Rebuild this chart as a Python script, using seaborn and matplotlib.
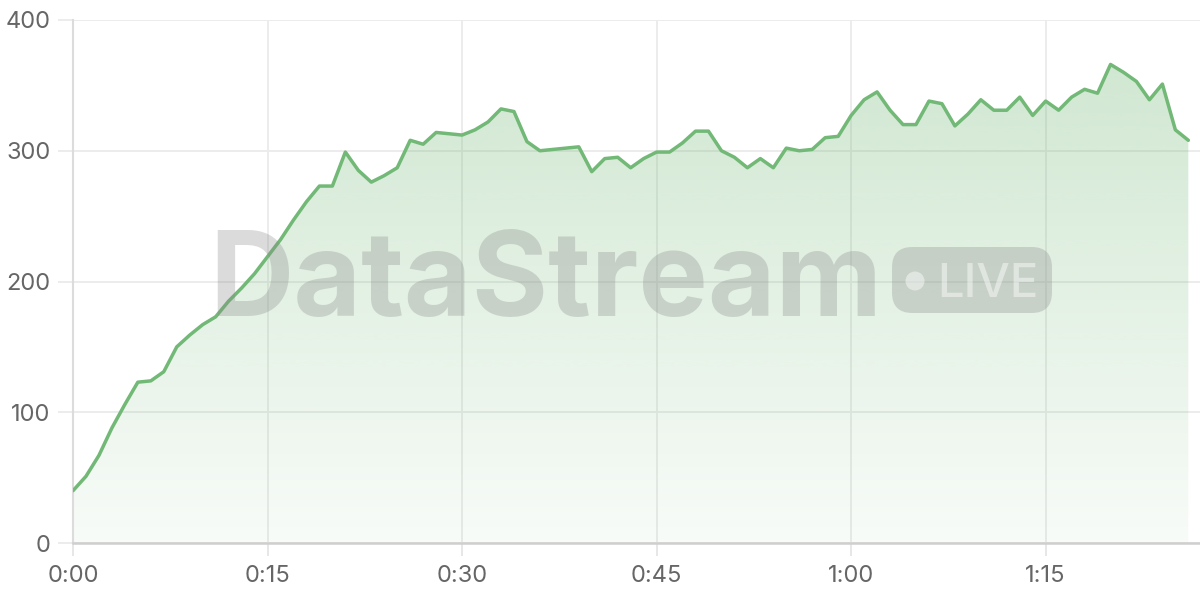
import numpy as np
import pandas as pd
import matplotlib
matplotlib.use("Agg")
import matplotlib.pyplot as plt
import seaborn as sns
from matplotlib.patches import FancyBboxPatch, Circle
from matplotlib.ticker import FuncFormatter, FixedLocator

# ---- data ----
minutes = list(range(87))
values = [40, 51, 67, 88, 106, 123, 124, 131, 150, 159,
          167, 173, 185, 195, 206, 219, 232, 247, 261, 273,
          273, 299, 285, 276, 281, 287, 308, 305, 314, 313,
          312, 316, 322, 332, 330, 307, 300, 301, 302, 303,
          284, 294, 295, 287, 294, 299, 299, 306, 315, 315,
          300, 295, 287, 294, 287, 302, 300, 301, 310, 311,
          327, 339, 345, 331, 320, 320, 338, 336, 319, 328,
          339, 331, 331, 341, 327, 338, 331, 341, 347, 344,
          366, 360, 353, 339, 351, 316, 308]
x_ticks = [0, 15, 30, 45, 60, 75]
y_ticks = [0, 100, 200, 300, 400]
watermark = "DataStream"
badge = "LIVE"

df = pd.DataFrame({"minute": minutes, "value": values})

sns.set_theme(style="white")
plt.rcParams["font.family"] = ["Inter", "DejaVu Sans"]

fig = plt.figure(figsize=(12, 6), dpi=100)
ax = fig.add_axes([73 / 1200, 1 - 543 / 600, 1 - 73 / 1200, (543 - 20) / 600])

line_color = "#72b876"

# gradient fill clipped to area under the curve
poly = ax.fill_between(df["minute"], df["value"], 0, color="none", lw=0)
vmax = max(values)
grad = np.linspace(0.05, 0.33, 256).reshape(-1, 1)
rgba = np.zeros((256, 1, 4))
rgba[..., 0] = 114 / 255
rgba[..., 1] = 184 / 255
rgba[..., 2] = 118 / 255
rgba[..., 3] = grad
im = ax.imshow(rgba, extent=[min(minutes), max(minutes), 0, vmax], origin="lower",
               aspect="auto", zorder=1, interpolation="bicubic")
clip = poly.get_paths()[0]
im.set_clip_path(clip, transform=ax.transData)

sns.lineplot(data=df, x="minute", y="value", ax=ax, color=line_color,
             linewidth=2.5, zorder=4)

ax.set_xlim(0, 86.9)
ax.set_ylim(0, 400)
ax.xaxis.set_major_locator(FixedLocator(x_ticks))
ax.yaxis.set_major_locator(FixedLocator(y_ticks))
ax.xaxis.set_major_formatter(FuncFormatter(lambda v, p: f"{int(v) // 60}:{int(v) % 60:02d}"))
ax.set_xlabel("")
ax.set_ylabel("")

ax.grid(True, color="#ebebeb", linewidth=1.3, zorder=0)
ax.set_axisbelow(True)
for s in ["top", "right"]:
    ax.spines[s].set_visible(False)
ax.spines["left"].set_color("#dcdcdc")
ax.spines["left"].set_linewidth(1.5)
ax.spines["bottom"].set_color("#cfcfcf")
ax.spines["bottom"].set_linewidth(1.8)
ax.tick_params(axis="y", length=11, width=1.3, color="#ebebeb", pad=5,
               labelsize=17, labelcolor="#666666")
ax.tick_params(axis="x", length=9, width=1.3, color="#e5e5e5", pad=7,
               labelsize=17, labelcolor="#666666")
ax.tick_params(bottom=True, left=True)

# watermark
fig.text(209 / 1200, 1 - 316 / 600, watermark, fontsize=84, fontweight="bold",
         color="#888888", alpha=0.3, ha="left", va="baseline", zorder=3)
bx0, by0, bx1, by1 = 892, 247, 1052, 313
fig.patches.append(FancyBboxPatch((bx0 / 1200, 1 - by1 / 600), (bx1 - bx0) / 1200,
                                  (by1 - by0) / 600,
                                  boxstyle="round,pad=0,rounding_size=0.017",
                                  transform=fig.transFigure, facecolor="#888888",
                                  alpha=0.3, edgecolor="none", zorder=3,
                                  mutation_aspect=2))
fig.patches.append(Circle((915, 600 - 281), 9.5, transform=None,
                          facecolor="white", alpha=0.45, edgecolor="none", zorder=3))
fig.text(937 / 1200, 1 - 297 / 600, badge, fontsize=34, fontweight="medium",
         color="white", alpha=0.45, ha="left", va="baseline", zorder=3)

fig.savefig("out.png", dpi=100)
